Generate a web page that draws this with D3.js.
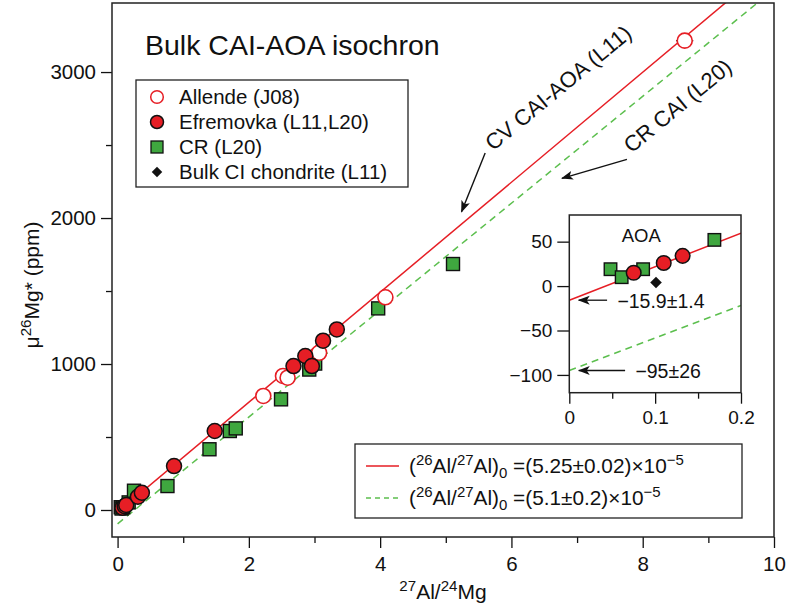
<!DOCTYPE html>
<html>
<head>
<meta charset="utf-8">
<script src="https://cdn.jsdelivr.net/npm/d3@7"></script>
<style>
body { margin: 0; background: #fff; }
svg text { font-family: "Liberation Sans", Arial, Helvetica, sans-serif; fill: #111; }
</style>
</head>
<body>
<div id="chart"></div>
<script>
// --- DATA ---
// Allende CAIs (J08): [27Al/24Mg, mu26Mg*, x error]
const allende = [[2.22, 781, 0], [2.52, 918, 0], [2.59, 906, 0], [3.07, 1077, 0], [4.08, 1457, 0], [8.64, 3215, 0.13]];
// Efremovka (L11, L20)
const efremovka = [[0.075, 15], [0.11, 26], [0.132, 34], [0.31, 91], [0.37, 118], [0.86, 301], [1.48, 541],
  [2.68, 986], [2.86, 1055], [2.96, 986], [3.13, 1160], [3.34, 1237]];
// CR (L20)
const crData = [[0.048, 19, 0], [0.061, 10, 0], [0.086, 19, 0], [0.169, 52, 0], [0.25, 132, 0], [0.76, 164, 0],
  [1.40, 416, 0], [1.71, 541, 0], [1.80, 559, 0], [2.49, 758, 0.1], [2.92, 962, 0], [3.01, 1003, 0],
  [3.97, 1381, 0], [5.11, 1685, 0]];
// Bulk CI chondrite (L11)
const ciData = [[0.101, 4]];

// isochrons: (26Al/27Al)0 and intercept (ppm)
const isoRatio = [5.25e-5, 5.1e-5];
const isoIntercept = [-15.9, -95];
const isoLabel = ["(5.25±0.02)", "(5.1±0.2)"];
const mgFactor = 7.178e6; // (24Mg/26Mg) x 1e6

const xMajor = [0, 2, 4, 6, 8, 10], xMinor = [1, 3, 5, 7, 9];
const yMajor = [0, 1000, 2000, 3000], yMinor = [500, 1500, 2500];
const inXMajor = [0, 0.1, 0.2], inXMinor = [0.05, 0.15];
const inYMajor = [-100, -50, 0, 50];

const RED = "#e61e25", GREEN = "#3fa73f", DASHGREEN = "#5cbf4e";

// --- SETUP ---
const W = 788, H = 616;
const svg = d3.select("#chart").append("svg").attr("width", W).attr("height", H);
const defs = svg.append("defs");

defs.append("marker").attr("id", "arr").attr("viewBox", "0 -5 12 10")
  .attr("refX", 11).attr("refY", 0).attr("markerWidth", 12).attr("markerHeight", 10)
  .attr("markerUnits", "userSpaceOnUse").attr("orient", "auto")
  .append("path").attr("d", "M0,-4.5L12,0L0,4.5L3,0Z").attr("fill", "#111");

const x = d3.scaleLinear().domain([-0.085, 10]).range([112, 774]);
const y = d3.scaleLinear().domain([-185, 3473]).range([537, 3]);

const ix = d3.scaleLinear().domain([0, 0.2]).range([569.3, 741]);
const iy = d3.scaleLinear().domain([-120, 80]).range([392.7, 215]);

defs.append("clipPath").attr("id", "clipMain").append("rect")
  .attr("x", 112).attr("y", 3).attr("width", 662).attr("height", 534);
defs.append("clipPath").attr("id", "clipIn").append("rect")
  .attr("x", 569.3).attr("y", 215).attr("width", 171.7).attr("height", 177.7);

// rich text helper: parts = [[text, "sup"|"sub"|null]]
function rich(g, parts, size) {
  const t = g.append("text").attr("font-size", size);
  let shift = 0;
  parts.forEach(([s, k]) => {
    const target = k === "sup" ? -0.4 * size : k === "sub" ? 0.25 * size : 0;
    t.append("tspan").attr("dy", target - shift)
      .attr("font-size", k ? size * 0.72 : size).text(s);
    shift = target;
  });
  return t;
}

function styleAxis(g, size) {
  g.select(".domain").remove();
  g.selectAll(".tick line").attr("stroke", "#111").attr("stroke-width", 1.3);
  g.selectAll(".tick text").attr("font-size", size).attr("fill", "#111");
}

const fmtNeg = d => d < 0 ? "−" + Math.abs(d) : String(d);

// --- MARKERS ---
function drawPoints(layer, sx, sy, r, sq) {
  const errs = [...allende, ...crData].filter(d => d[2] > 0);
  layer.selectAll("line.err").data(errs).join("line").attr("class", "err")
    .attr("x1", d => sx(d[0] - d[2])).attr("x2", d => sx(d[0] + d[2]))
    .attr("y1", d => sy(d[1])).attr("y2", d => sy(d[1]))
    .attr("stroke", "#111").attr("stroke-width", 1.3);

  layer.selectAll("path.ci").data(ciData).join("path").attr("class", "ci")
    .attr("d", d3.symbol(d3.symbolDiamond2, r * r * 1.6))
    .attr("transform", d => `translate(${sx(d[0])},${sy(d[1])})`)
    .attr("fill", "#111");

  layer.selectAll("rect.cr").data(crData).join("rect").attr("class", "cr")
    .attr("x", d => sx(d[0]) - sq / 2).attr("y", d => sy(d[1]) - sq / 2)
    .attr("width", sq).attr("height", sq)
    .attr("fill", GREEN).attr("stroke", "#111").attr("stroke-width", 1.4);

  layer.selectAll("circle.al").data(allende).join("circle").attr("class", "al")
    .attr("cx", d => sx(d[0])).attr("cy", d => sy(d[1])).attr("r", r)
    .attr("fill", "#fff").attr("stroke", RED).attr("stroke-width", 1.6);

  layer.selectAll("circle.ef").data(efremovka).join("circle").attr("class", "ef")
    .attr("cx", d => sx(d[0])).attr("cy", d => sy(d[1])).attr("r", r)
    .attr("fill", RED).attr("stroke", "#111").attr("stroke-width", 1.5);
}

function drawLines(layer, sx, sy, x0, x1) {
  isoRatio.forEach((ratio, i) => {
    const slope = ratio * mgFactor;
    layer.append("line")
      .attr("x1", sx(x0)).attr("y1", sy(isoIntercept[i] + slope * x0))
      .attr("x2", sx(x1)).attr("y2", sy(isoIntercept[i] + slope * x1))
      .attr("stroke", i === 0 ? RED : DASHGREEN).attr("stroke-width", 1.5)
      .attr("stroke-dasharray", i === 0 ? null : "7,5");
  });
}

// --- MAIN PLOT ---
const main = svg.append("g");
const mainClip = main.append("g").attr("clip-path", "url(#clipMain)");
drawLines(mainClip, x, y, 0, 10);
drawPoints(mainClip, x, y, 7.5, 13);

main.append("g").attr("transform", "translate(0,537)")
  .call(d3.axisBottom(x).tickValues(xMajor).tickSize(11).tickPadding(8).tickFormat(d3.format("d")))
  .call(g => styleAxis(g, 20.5));
main.append("g").attr("transform", "translate(0,537)")
  .call(d3.axisBottom(x).tickValues(xMinor).tickSize(6).tickFormat(""))
  .call(g => styleAxis(g, 20));
main.append("g").attr("transform", "translate(112,0)")
  .call(d3.axisLeft(y).tickValues(yMajor).tickSize(11).tickPadding(5).tickFormat(d3.format("d")))
  .call(g => styleAxis(g, 20.5));
main.append("g").attr("transform", "translate(112,0)")
  .call(d3.axisLeft(y).tickValues(yMinor).tickSize(6).tickFormat(""))
  .call(g => styleAxis(g, 20));

main.append("rect").attr("x", 112).attr("y", 3).attr("width", 662).attr("height", 534)
  .attr("fill", "none").attr("stroke", "#222").attr("stroke-width", 1.5);

// axis titles
rich(main, [["27", "sup"], ["Al/", null], ["24", "sup"], ["Mg", null]], 21)
  .attr("x", 443).attr("y", 599).attr("text-anchor", "middle");
rich(main, [["μ", null], ["26", "sup"], ["Mg* (ppm)", null]], 21)
  .attr("text-anchor", "middle").attr("transform", "translate(39,285) rotate(-90)");

// title
main.append("text").attr("x", 145).attr("y", 55).attr("font-size", 28.5).text("Bulk CAI-AOA isochron");

// --- TOP-LEFT LEGEND ---
const leg = main.append("g");
leg.append("rect").attr("x", 136).attr("y", 80).attr("width", 272).attr("height", 107)
  .attr("fill", "#fff").attr("stroke", "#222").attr("stroke-width", 1.3);
const legNames = ["Allende (J08)", "Efremovka (L11,L20)", "CR (L20)", "Bulk CI chondrite (L11)"];
const legY = d3.scalePoint().domain(legNames).range([97, 172]);
leg.append("circle").attr("cx", 157).attr("cy", legY(legNames[0])).attr("r", 6.3)
  .attr("fill", "#fff").attr("stroke", RED).attr("stroke-width", 1.5);
leg.append("circle").attr("cx", 157).attr("cy", legY(legNames[1])).attr("r", 6.5)
  .attr("fill", RED).attr("stroke", "#111").attr("stroke-width", 1.5);
leg.append("rect").attr("x", 151).attr("y", legY(legNames[2]) - 6).attr("width", 12).attr("height", 12)
  .attr("fill", GREEN).attr("stroke", "#111").attr("stroke-width", 1.3);
leg.append("path").attr("d", d3.symbol(d3.symbolDiamond2, 70))
  .attr("transform", `translate(157,${legY(legNames[3])})`).attr("fill", "#111");
leg.selectAll("text.lg").data(legNames).join("text").attr("class", "lg")
  .attr("x", 179).attr("y", d => legY(d) + 7).attr("font-size", 20.5).text(d => d);

// --- LINE LABELS + ARROWS ---
const notes = [
  { text: "CV CAI-AOA (L11)", tx: 5.72, ty: 2455, ang: -39.6, ax0: 5.60, ay0: 2445, ax1: 5.24, ay1: 2043 },
  { text: "CR CAI (L20)", tx: 7.83, ty: 2440, ang: -39.6, ax0: 7.76, ay0: 2402, ax1: 6.77, ay1: 2272 }
];
notes.forEach(n => {
  main.append("text").attr("font-size", 22)
    .attr("transform", `translate(${x(n.tx)},${y(n.ty)}) rotate(${n.ang})`).text(n.text);
  main.append("line").attr("x1", x(n.ax0)).attr("y1", y(n.ay0)).attr("x2", x(n.ax1)).attr("y2", y(n.ay1))
    .attr("stroke", "#111").attr("stroke-width", 1.4).attr("marker-end", "url(#arr)");
});

// --- BOTTOM-RIGHT LEGEND ---
const leg2 = main.append("g");
leg2.append("rect").attr("x", 355).attr("y", 444).attr("width", 387).attr("height", 74)
  .attr("fill", "#fff").attr("stroke", "#222").attr("stroke-width", 1.3);
isoRatio.forEach((r, i) => {
  const yy = 466 + i * 32;
  leg2.append("line").attr("x1", 366).attr("x2", 399).attr("y1", yy).attr("y2", yy)
    .attr("stroke", i === 0 ? RED : DASHGREEN).attr("stroke-width", 1.5)
    .attr("stroke-dasharray", i === 0 ? null : "5,4");
  rich(leg2, [["(", null], ["26", "sup"], ["Al/", null], ["27", "sup"], ["Al)", null], ["0", "sub"],
    [" =" + isoLabel[i] + "×10", null], ["−5", "sup"]], 20.8)
    .attr("x", 409).attr("y", yy + 7);
});

// --- INSET ---
const inset = svg.append("g");
inset.append("rect").attr("x", 569.3).attr("y", 215).attr("width", 171.7).attr("height", 177.7).attr("fill", "#fff");
const inClip = inset.append("g").attr("clip-path", "url(#clipIn)");
drawLines(inClip, ix, iy, 0, 0.2);
drawPoints(inClip, ix, iy, 7.3, 12.5);

inset.append("g").attr("transform", "translate(0,392.7)")
  .call(d3.axisBottom(ix).tickValues(inXMajor).tickSize(11).tickPadding(7).tickFormat(d3.format("")))
  .call(g => styleAxis(g, 19));
inset.append("g").attr("transform", "translate(0,392.7)")
  .call(d3.axisBottom(ix).tickValues(inXMinor).tickSize(6).tickFormat(""))
  .call(g => styleAxis(g, 19));
inset.append("g").attr("transform", "translate(569.3,0)")
  .call(d3.axisLeft(iy).tickValues(inYMajor).tickSize(12).tickPadding(5).tickFormat(fmtNeg))
  .call(g => styleAxis(g, 19));
inset.append("rect").attr("x", 569.3).attr("y", 215).attr("width", 171.7).attr("height", 177.7)
  .attr("fill", "none").attr("stroke", "#222").attr("stroke-width", 1.5);

inset.append("text").attr("x", ix(0.061)).attr("y", iy(50)).attr("font-size", 18.5).text("AOA");
const interceptText = ["−15.9±1.4", "−95±26"];
isoIntercept.forEach((v, i) => {
  inset.append("line").attr("x1", ix(i === 0 ? 0.044 : 0.065)).attr("x2", ix(0.011))
    .attr("y1", iy(v)).attr("y2", iy(v))
    .attr("stroke", "#111").attr("stroke-width", 1.3).attr("marker-end", "url(#arr)");
  inset.append("text").attr("x", ix(i === 0 ? 0.056 : 0.077)).attr("y", iy(v) + 8)
    .attr("font-size", 19.5).text(interceptText[i]);
});
</script>
</body>
</html>
